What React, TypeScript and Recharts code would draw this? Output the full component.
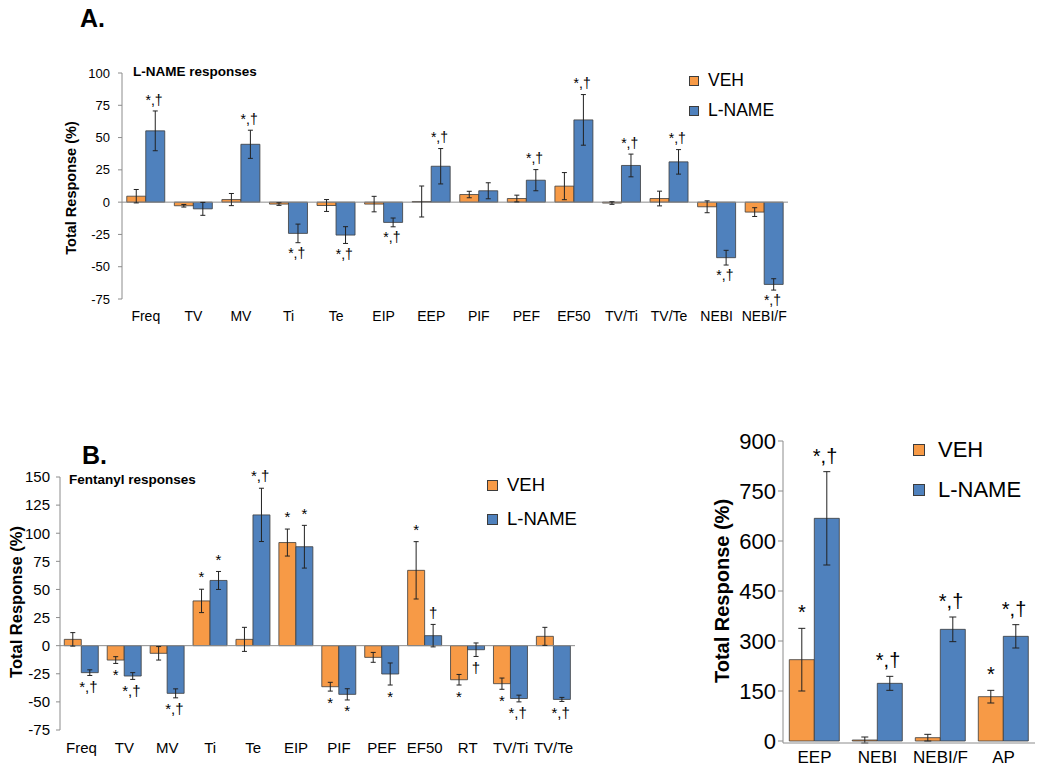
import React from "react"
import { BarChart, Bar, XAxis, YAxis, ErrorBar, ReferenceLine, LabelList, Legend } from "recharts"

// A. L-NAME responses
const aCategories = ["Freq", "TV", "MV", "Ti", "Te", "EIP", "EEP", "PIF", "PEF", "EF50", "TV/Ti", "TV/Te", "NEBI", "NEBI/F"]
const aVeh = [4.6, -2.8, 2, -1.5, -2.6, -1.5, 0.5, 5.9, 2.8, 12.4, -0.7, 2.8, -3.6, -7.7]
const aVehErr = [5.2, 1, 4.7, 1, 4.6, 6, 12, 2.5, 2.6, 10.5, 1, 5.7, 4.6, 3.4]
const aLname = [55.2, -5.2, 44.8, -24.2, -25.5, -15.7, 27.8, 8.8, 17, 63.7, 28.4, 31.2, -43, -63.7]
const aLnameErr = [15.4, 5, 10.9, 7.2, 6.5, 3.4, 13.7, 6.2, 8.2, 19.6, 8.8, 9.5, 5.7, 4.4]
const aVehNotes = ["", "", "", "", "", "", "", "", "", "", "", "", "", ""]
const aLnameNotes = ["*,†", "", "*,†", "*,†", "*,†", "*,†", "*,†", "", "*,†", "*,†", "*,†", "*,†", "*,†", "*,†"]
const aTicks = [-75, -50, -25, 0, 25, 50, 75, 100]

// B. Fentanyl responses
const bCategories = ["Freq", "TV", "MV", "Ti", "Te", "EIP", "PIF", "PEF", "EF50", "RT", "TV/Ti", "TV/Te"]
const bVeh = [5.6, -12.8, -6.8, 39.8, 5.6, 91.7, -36.5, -10.4, 67, -30.3, -33.8, 8.3]
const bVehErr = [6, 3, 6, 10.4, 10.7, 12, 3.9, 4.4, 25.5, 4.7, 5, 8]
const bLname = [-24, -27, -42.4, 58, 116.3, 88, -43.3, -25.2, 8.9, -3.6, -47, -47.8]
const bLnameErr = [2.5, 3, 4, 8, 23.7, 19, 5, 9.8, 10, 6, 3, 1.8]
const bVehNotes = ["", "*", "", "*", "", "*", "*", "", "*", "*", "*", ""]
const bLnameNotes = ["*,†", "*,†", "*,†", "*", "*,†", "*", "*", "*", "†", "†", "*,†", "*,†"]
const bTicks = [-75, -50, -25, 0, 25, 50, 75, 100, 125, 150]

// C. expiratory measures
const cCategories = ["EEP", "NEBI", "NEBI/F", "AP"]
const cVeh = [244, 3, 10, 133]
const cVehErr = [94, 9, 10, 19]
const cLname = [668, 173, 335, 314]
const cLnameErr = [140, 21, 37, 35]
const cVehNotes = ["*", "", "", "*"]
const cLnameNotes = ["*,†", "*,†", "*,†", "*,†"]
const cTicks = [0, 150, 300, 450, 600, 750, 900]

const seriesOrder = ["VEH", "L-NAME"]

const ORANGE = "#F79A46"
const BLUE = "#4F81BD"
const EDGE = "#3c3c3c"
const AXIS = "#8c8c8c"
const FONT = "'Liberation Sans', Arial, sans-serif"

function buildRows(cats: string[], veh: number[], vehErr: number[], lname: number[], lnameErr: number[], vehNotes: string[], lnameNotes: string[]) {
  return cats.map((cat, i) => ({
    cat,
    veh: veh[i],
    vehErr: vehErr[i],
    lname: lname[i],
    lnameErr: lnameErr[i],
    vehNote: vehNotes[i],
    lnameNote: lnameNotes[i],
  }))
}

// significance mark placed just past the end of the error bar
const noteLabel = (values: number[], errs: number[], fs: number) => (props: any) => {
  const { x, y, width, height, value, index } = props
  if (!value) return null
  const v = values[index]
  const e = errs[index]
  const top = Math.min(y, y + height)
  const bottom = Math.max(y, y + height)
  const ppu = (bottom - top) / Math.abs(v)
  const single = String(value).length === 1
  const tx = single ? x + width / 2 : x + width / 2 - fs * 0.7
  const anchor = single ? "middle" : "start"
  if (v >= 0) {
    const endY = bottom - (v + e) * ppu
    return <text x={tx} y={endY - fs * 0.45} fontSize={fs} fill="#000" textAnchor={anchor}>{value}</text>
  }
  const endY = top + (-v + e) * ppu
  return <text x={tx} y={endY + fs * 1.1} fontSize={fs} fill="#000" textAnchor={anchor}>{value}</text>
}

const legendBox = (sq: number, fs: number, rowH: number, gap: number) => (props: any) => {
  const items = [...(props.payload || [])].sort(
    (a: any, b: any) => seriesOrder.indexOf(a.value) - seriesOrder.indexOf(b.value)
  )
  return (
    <div style={{ fontFamily: FONT }}>
      {items.map((p: any) => (
        <div key={p.value} style={{ display: "flex", alignItems: "center", height: rowH }}>
          <span style={{ width: sq, height: sq, background: p.color, border: `1px solid ${EDGE}`, boxSizing: "border-box", marginRight: gap }} />
          <span style={{ fontSize: fs, color: "#000", lineHeight: 1 }}>{p.value}</span>
        </div>
      ))}
    </div>
  )
}

type PanelProps = {
  rows: any[]
  veh: number[]
  vehErr: number[]
  lname: number[]
  lnameErr: number[]
  left: number
  top: number
  width: number
  height: number
  margin: { top: number; right: number; bottom: number; left: number }
  domain: [number, number]
  ticks: number[]
  yWidth: number
  yFont: number
  yTickSize: number
  yTickMargin: number
  xFont: number
  xHeight: number
  xTickMargin: number
  zeroLine: boolean
  noteFont: number
  errWidth: number
  legend: { left: number; top: number; sq: number; fs: number; rowH: number; gap: number }
}

function Panel(p: PanelProps) {
  return (
    <div style={{ position: "absolute", left: p.left, top: p.top }}>
      <BarChart width={p.width} height={p.height} data={p.rows} margin={p.margin} barCategoryGap="10%" barGap={0}>
        <XAxis
          dataKey="cat"
          interval={0}
          height={p.xHeight}
          axisLine={p.zeroLine ? false : { stroke: AXIS }}
          tickLine={false}
          tickMargin={p.xTickMargin}
          tick={{ fontSize: p.xFont, fill: "#000" }}
        />
        <YAxis
          type="number"
          domain={p.domain}
          ticks={p.ticks}
          interval={0}
          width={p.yWidth}
          axisLine={{ stroke: AXIS }}
          tickLine={{ stroke: AXIS }}
          tickSize={p.yTickSize}
          tickMargin={p.yTickMargin}
          tick={{ fontSize: p.yFont, fill: "#000" }}
        />
        {p.zeroLine && <ReferenceLine y={0} stroke={AXIS} strokeWidth={1} />}
        <Legend
          layout="vertical"
          align="center"
          verticalAlign="middle"
          content={legendBox(p.legend.sq, p.legend.fs, p.legend.rowH, p.legend.gap)}
          wrapperStyle={{ left: p.legend.left, top: p.legend.top, width: "auto" }}
        />
        <Bar dataKey="veh" name="VEH" fill={ORANGE} stroke={EDGE} strokeWidth={0.8} isAnimationActive={false}>
          <ErrorBar dataKey="vehErr" width={p.errWidth} stroke="#222" strokeWidth={1} />
          <LabelList dataKey="vehNote" content={noteLabel(p.veh, p.vehErr, p.noteFont)} />
        </Bar>
        <Bar dataKey="lname" name="L-NAME" fill={BLUE} stroke={EDGE} strokeWidth={0.8} isAnimationActive={false}>
          <ErrorBar dataKey="lnameErr" width={p.errWidth} stroke="#222" strokeWidth={1} />
          <LabelList dataKey="lnameNote" content={noteLabel(p.lname, p.lnameErr, p.noteFont)} />
        </Bar>
      </BarChart>
    </div>
  )
}

function YTitle({ x, y, size, children }: { x: number; y: number; size: number; children: React.ReactNode }) {
  return (
    <div
      style={{
        position: "absolute",
        left: x,
        top: y,
        transform: "translate(-50%, -50%) rotate(-90deg)",
        whiteSpace: "nowrap",
        fontWeight: "bold",
        fontSize: size,
        lineHeight: 1,
      }}
    >
      {children}
    </div>
  )
}

function Text({ x, y, size, children }: { x: number; y: number; size: number; children: React.ReactNode }) {
  return (
    <div style={{ position: "absolute", left: x, top: y, fontWeight: "bold", fontSize: size, lineHeight: 1, whiteSpace: "nowrap" }}>
      {children}
    </div>
  )
}

export default function App() {
  const aRows = buildRows(aCategories, aVeh, aVehErr, aLname, aLnameErr, aVehNotes, aLnameNotes)
  const bRows = buildRows(bCategories, bVeh, bVehErr, bLname, bLnameErr, bVehNotes, bLnameNotes)
  const cRows = buildRows(cCategories, cVeh, cVehErr, cLname, cLnameErr, cVehNotes, cLnameNotes)

  return (
    <div
      style={{
        position: "absolute",
        left: 0,
        top: 0,
        width: 1050,
        height: 772,
        overflow: "hidden",
        background: "#fff",
        fontFamily: FONT,
        color: "#000",
      }}
    >
      <Text x={80} y={6} size={25}>A.</Text>
      <Text x={133} y={65} size={13.5}>L-NAME responses</Text>
      <YTitle x={71} y={188} size={14.5}>Total Response (%)</YTitle>
      <Panel
        rows={aRows}
        veh={aVeh}
        vehErr={aVehErr}
        lname={aLname}
        lnameErr={aLnameErr}
        left={0}
        top={0}
        width={800}
        height={335}
        margin={{ top: 73, right: 12, bottom: 6, left: 0 }}
        domain={[-75, 100]}
        ticks={aTicks}
        yWidth={122}
        yFont={13}
        yTickSize={4}
        yTickMargin={8}
        xFont={14}
        xHeight={30}
        xTickMargin={6}
        zeroLine
        noteFont={14}
        errWidth={2.5}
        legend={{ left: 689, top: 66, sq: 10, fs: 17.5, rowH: 30, gap: 9 }}
      />

      <Text x={82} y={443} size={25}>B.</Text>
      <Text x={69} y={473} size={13.5}>Fentanyl responses</Text>
      <YTitle x={16} y={602} size={16.5}>Total Response (%)</YTitle>
      <Panel
        rows={bRows}
        veh={bVeh}
        vehErr={bVehErr}
        lname={bLname}
        lnameErr={bLnameErr}
        left={0}
        top={400}
        width={590}
        height={370}
        margin={{ top: 77, right: 15, bottom: 10, left: 0 }}
        domain={[-75, 150]}
        ticks={bTicks}
        yWidth={60}
        yFont={15}
        yTickSize={4}
        yTickMargin={6}
        xFont={15}
        xHeight={30}
        xTickMargin={6}
        zeroLine
        noteFont={15}
        errWidth={2.5}
        legend={{ left: 487, top: 68, sq: 11, fs: 18.5, rowH: 34, gap: 9 }}
      />

      <YTitle x={722} y={591} size={20}>Total Response (%)</YTitle>
      <Panel
        rows={cRows}
        veh={cVeh}
        vehErr={cVehErr}
        lname={cLname}
        lnameErr={cLnameErr}
        left={700}
        top={400}
        width={350}
        height={372}
        margin={{ top: 41, right: 15, bottom: 0, left: 0 }}
        domain={[0, 900]}
        ticks={cTicks}
        yWidth={83}
        yFont={22}
        yTickSize={5}
        yTickMargin={2}
        xFont={17}
        xHeight={29}
        xTickMargin={2}
        zeroLine={false}
        noteFont={20}
        errWidth={3.5}
        legend={{ left: 213, top: 30, sq: 12, fs: 22, rowH: 40, gap: 13 }}
      />
    </div>
  )
}
